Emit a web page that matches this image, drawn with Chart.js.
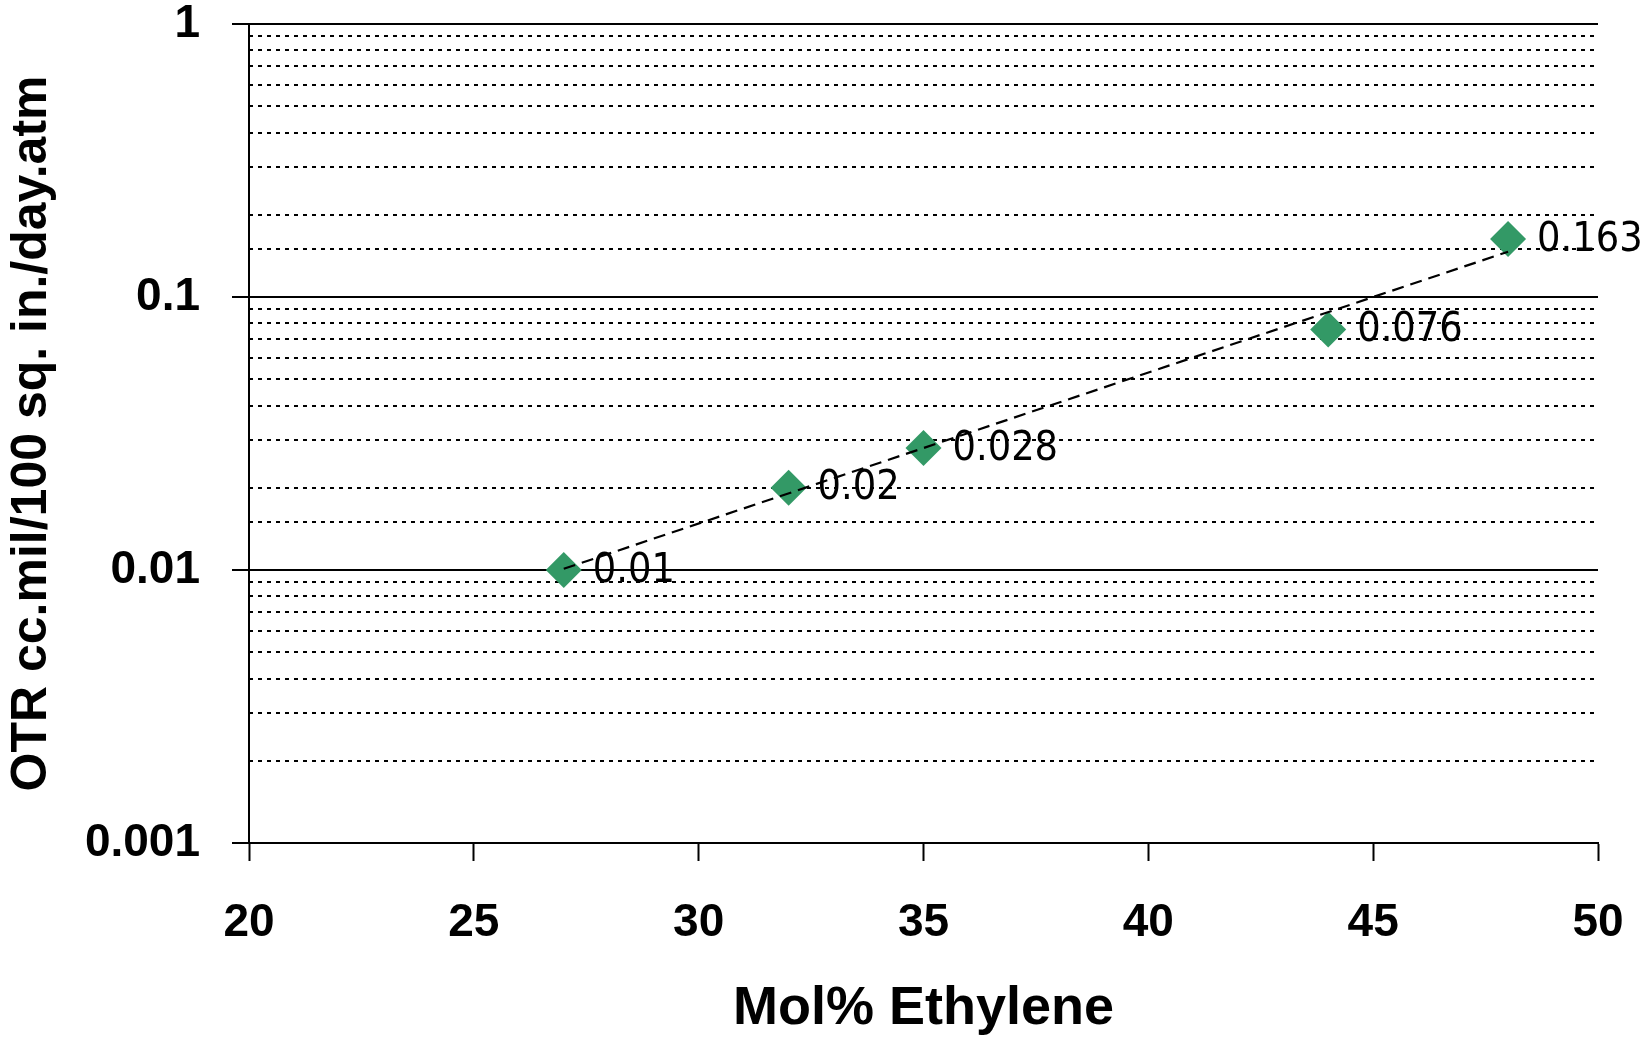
<!DOCTYPE html>
<html>
<head>
<meta charset="utf-8">
<title>OTR vs Mol% Ethylene</title>
<script src="https://cdn.jsdelivr.net/npm/chart.js@4.4.1/dist/chart.umd.min.js"></script>
<style>
  html, body { margin: 0; padding: 0; background: #ffffff; }
  #wrap { width: 1646px; height: 1037px; position: relative; }
</style>
</head>
<body>
<div id="wrap"><canvas id="otrChart" width="1646" height="1037"></canvas></div>
<script>
// Measured oxygen transmission rate by ethylene content
const ethylenePct = [27, 32, 35, 44, 48];
const otrValues = [0.01, 0.02, 0.028, 0.076, 0.163];
const otrLabels = ['0.01', '0.02', '0.028', '0.076', '0.163'];

// Exponential trendline end points (straight on the log axis)
const trendX = [27, 48];
const trendY = [0.0101, 0.1465];

// Axis ticks
const xTicks = [20, 25, 30, 35, 40, 45, 50];
const yMajorTicks = [0.001, 0.01, 0.1, 1];
const yTickLabels = ['0.001', '0.01', '0.1', '1'];

const GREEN = '#339966';
const BOLD_FONT = "'Liberation Sans', Arial, sans-serif";
const LABEL_FONT = "'DejaVu Sans Condensed', 'Liberation Sans', sans-serif";

const pointLabels = {
  id: 'pointLabels',
  afterDatasetsDraw(chart) {
    const meta = chart.getDatasetMeta(1);
    const ctx = chart.ctx;
    ctx.save();
    ctx.font = '41px ' + LABEL_FONT;
    ctx.fillStyle = '#000000';
    ctx.textAlign = 'left';
    ctx.textBaseline = 'middle';
    meta.data.forEach((pt, i) => {
      ctx.fillText(otrLabels[i], pt.x + 29, pt.y + 1);
    });
    ctx.restore();
  }
};

const isDecade = v => Math.abs(Math.log10(v) - Math.round(Math.log10(v))) < 1e-9;

new Chart(document.getElementById('otrChart'), {
  type: 'scatter',
  data: {
    datasets: [
      {
        label: 'Trend',
        data: trendX.map((x, i) => ({ x: x, y: trendY[i] })),
        showLine: true,
        borderColor: '#000000',
        borderWidth: 2.2,
        borderDash: [12, 7],
        pointRadius: 0,
        fill: false,
        order: 0
      },
      {
        label: 'OTR',
        data: ethylenePct.map((x, i) => ({ x: x, y: otrValues[i] })),
        pointStyle: 'rectRot',
        pointRadius: 18,
        pointHoverRadius: 18,
        backgroundColor: GREEN,
        borderWidth: 0,
        showLine: false,
        order: 1
      }
    ]
  },
  options: {
    responsive: false,
    animation: false,
    events: [],
    layout: { padding: { left: 0, right: 48, top: 24, bottom: 0 } },
    plugins: { legend: { display: false }, tooltip: { enabled: false } },
    scales: {
      x: {
        type: 'linear',
        min: 20,
        max: 50,
        afterBuildTicks(scale) { scale.ticks = xTicks.map(v => ({ value: v })); },
        afterFit(scale) {
          scale.height = 194;
          scale.paddingLeft = 0;
          scale.paddingRight = 0;
        },
        grid: {
          drawOnChartArea: false,
          drawTicks: true,
          tickLength: 18,
          tickColor: '#000000',
          tickWidth: 2
        },
        border: { display: true, color: '#000000', width: 2 },
        ticks: {
          color: '#000000',
          padding: 39,
          font: { family: BOLD_FONT, size: 46, weight: 'bold', lineHeight: 1 },
          maxRotation: 0
        },
        title: {
          display: true,
          text: 'Mol% Ethylene',
          color: '#000000',
          font: { family: BOLD_FONT, size: 54, weight: 'bold', lineHeight: 1 },
          padding: { top: 0, bottom: 1 }
        }
      },
      y: {
        type: 'logarithmic',
        position: 'left',
        min: 0.001,
        max: 1,
        afterBuildTicks(scale) { scale.ticks = yMajorTicks.map(v => ({ value: v, major: true })); },
        afterFit(scale) {
          scale.width = 249;
          scale.paddingTop = 0;
          scale.paddingBottom = 0;
        },
        grid: {
          color: '#000000',
          lineWidth: 2,
          drawTicks: true,
          tickLength: 17,
          tickColor: '#000000',
          tickWidth: 2
        },
        border: { display: true, color: '#000000', width: 2 },
        ticks: {
          color: '#000000',
          padding: 32,
          font: { family: BOLD_FONT, size: 46, weight: 'bold', lineHeight: 1 },
          callback: (v) => {
            const k = yMajorTicks.findIndex(t => Math.abs(t - v) < 1e-12);
            return k >= 0 ? yTickLabels[k] : '';
          }
        },
        title: {
          display: true,
          text: 'OTR cc.mil/100 sq. in./day.atm',
          color: '#000000',
          font: { family: BOLD_FONT, size: 50, weight: 'bold', lineHeight: 1 },
          padding: { top: 7, bottom: 0 }
        }
      },
      yMinor: {
        type: 'logarithmic',
        position: 'right',
        min: 0.001,
        max: 1,
        afterBuildTicks(scale) {
          scale.ticks = scale.ticks.filter(t => !isDecade(t.value));
        },
        afterFit(scale) {
          scale.width = 0;
          scale.paddingTop = 0;
          scale.paddingBottom = 0;
        },
        grid: {
          color: '#000000',
          lineWidth: 2,
          drawTicks: false
        },
        border: { display: false, dash: [4, 5] },
        ticks: { display: false }
      }
    }
  },
  plugins: [pointLabels]
});
</script>
</body>
</html>
